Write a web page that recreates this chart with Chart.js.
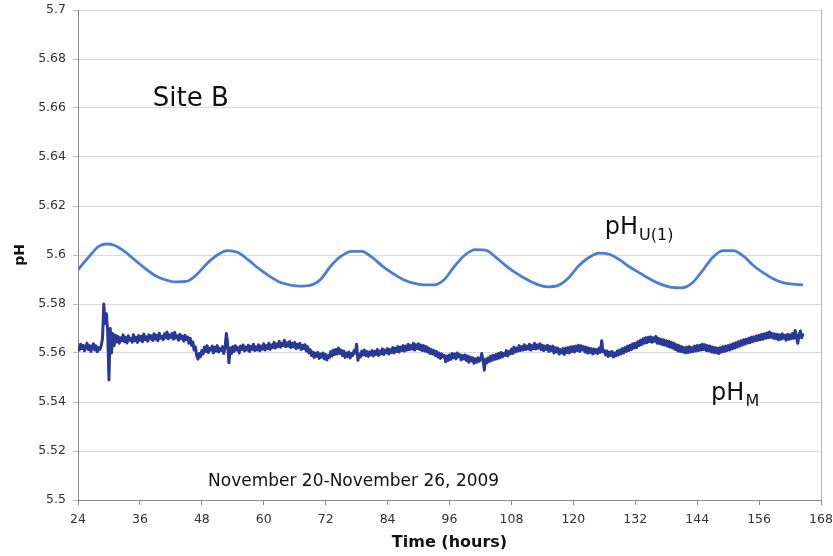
<!DOCTYPE html>
<html>
<head>
<meta charset="utf-8">
<script src="https://cdn.jsdelivr.net/npm/chart.js@4"></script>
<style>
  html,body{margin:0;padding:0;background:#fff;}
  #wrap{width:833px;height:556px;}
</style>
</head>
<body>
<div id="wrap"><canvas id="graf" width="833" height="556"></canvas></div>
<script>
// pH_U(1): smooth daily cycle, hand-read key points (hours, pH)
const tempoU = [24,26,28,29.5,31,33,35,37,39,41,43,45,47,49,51,53,55,57,59,61,63,65,67,69,71,73,75,77,79,81,83,85,87,89,91,93,95,97,99,101,103,105,107,109,111,113,115,117,119,121,123,125,127,129,131,133,135,137,139,141,143,145,147,149,151,153,155,157,159,161,163,164.5];
const phU = [5.5940,5.5990,5.6035,5.6045,5.6040,5.6015,5.5980,5.5945,5.5915,5.5898,5.5890,5.5892,5.5920,5.5965,5.6000,5.6018,5.6010,5.5980,5.5945,5.5915,5.5890,5.5878,5.5873,5.5876,5.5900,5.5955,5.5995,5.6015,5.6015,5.5990,5.5955,5.5925,5.5900,5.5885,5.5878,5.5878,5.5900,5.5955,5.6000,5.6022,5.6020,5.5990,5.5955,5.5925,5.5900,5.5880,5.5870,5.5875,5.5905,5.5955,5.5990,5.6008,5.6003,5.5980,5.5950,5.5925,5.5900,5.5880,5.5868,5.5866,5.5885,5.5935,5.5990,5.6018,5.6018,5.5995,5.5955,5.5925,5.5900,5.5885,5.5880,5.5878];

// pH_M: measured, sampled every quarter hour from 24 h (one row = 3 h)
const inicioM = 24, passoM = 0.25;
const phM = [
  5.5628,5.5612,5.5636,5.5618,5.5631,5.5609,5.5625,5.5640,5.5614,5.5630,5.5606,5.5627,
  5.5638,5.5612,5.5629,5.5605,5.5622,5.5615,5.5630,5.5660,5.5800,5.5720,5.5760,5.5690,
  5.5490,5.5700,5.5600,5.5680,5.5630,5.5672,5.5645,5.5668,5.5640,5.5662,5.5650,5.5674,
  5.5646,5.5664,5.5641,5.5670,5.5652,5.5660,5.5644,5.5675,5.5650,5.5664,5.5643,5.5671,
  5.5652,5.5668,5.5646,5.5677,5.5655,5.5666,5.5648,5.5674,5.5657,5.5670,5.5651,5.5679,
  5.5656,5.5672,5.5650,5.5681,5.5660,5.5668,5.5654,5.5678,5.5662,5.5686,5.5658,5.5674,
  5.5664,5.5680,5.5656,5.5684,5.5661,5.5670,5.5652,5.5676,5.5658,5.5669,5.5648,5.5672,
  5.5655,5.5665,5.5640,5.5660,5.5632,5.5645,5.5612,5.5625,5.5590,5.5575,5.5598,5.5585,
  5.5610,5.5596,5.5624,5.5606,5.5630,5.5602,5.5620,5.5612,5.5628,5.5600,5.5624,5.5608,
  5.5630,5.5604,5.5618,5.5610,5.5626,5.5598,5.5622,5.5680,5.5640,5.5560,5.5620,5.5598,
  5.5626,5.5606,5.5630,5.5612,5.5622,5.5600,5.5628,5.5614,5.5633,5.5608,5.5624,5.5612,
  5.5632,5.5606,5.5627,5.5615,5.5636,5.5610,5.5625,5.5612,5.5634,5.5609,5.5628,5.5616,
  5.5638,5.5612,5.5630,5.5618,5.5640,5.5615,5.5633,5.5622,5.5644,5.5620,5.5637,5.5626,
  5.5648,5.5624,5.5640,5.5630,5.5652,5.5626,5.5642,5.5628,5.5647,5.5622,5.5640,5.5625,
  5.5643,5.5618,5.5636,5.5622,5.5640,5.5614,5.5632,5.5618,5.5634,5.5608,5.5626,5.5600,
  5.5614,5.5590,5.5604,5.5582,5.5600,5.5586,5.5602,5.5578,5.5596,5.5583,5.5600,5.5576,
  5.5594,5.5572,5.5590,5.5582,5.5606,5.5588,5.5612,5.5594,5.5614,5.5596,5.5620,5.5598,
  5.5612,5.5590,5.5608,5.5582,5.5600,5.5586,5.5604,5.5580,5.5598,5.5590,5.5610,5.5600,
  5.5636,5.5570,5.5596,5.5584,5.5608,5.5592,5.5612,5.5590,5.5606,5.5586,5.5604,5.5592,
  5.5610,5.5588,5.5606,5.5594,5.5614,5.5590,5.5608,5.5596,5.5617,5.5594,5.5612,5.5600,
  5.5618,5.5596,5.5614,5.5602,5.5622,5.5600,5.5620,5.5606,5.5626,5.5604,5.5624,5.5610,
  5.5630,5.5608,5.5628,5.5612,5.5636,5.5614,5.5630,5.5616,5.5640,5.5612,5.5634,5.5618,
  5.5638,5.5614,5.5632,5.5610,5.5630,5.5608,5.5626,5.5604,5.5620,5.5598,5.5614,5.5596,
  5.5610,5.5590,5.5606,5.5584,5.5600,5.5578,5.5596,5.5584,5.5590,5.5564,5.5588,5.5570,
  5.5592,5.5574,5.5598,5.5580,5.5596,5.5576,5.5600,5.5584,5.5594,5.5572,5.5590,5.5576,
  5.5592,5.5570,5.5588,5.5562,5.5584,5.5568,5.5580,5.5558,5.5576,5.5562,5.5580,5.5566,
  5.5574,5.5598,5.5570,5.5530,5.5575,5.5560,5.5580,5.5566,5.5588,5.5570,5.5590,5.5574,
  5.5594,5.5576,5.5598,5.5580,5.5602,5.5584,5.5598,5.5590,5.5610,5.5588,5.5606,5.5596,
  5.5616,5.5598,5.5624,5.5604,5.5620,5.5608,5.5630,5.5610,5.5626,5.5612,5.5634,5.5614,
  5.5628,5.5616,5.5636,5.5612,5.5630,5.5618,5.5640,5.5616,5.5633,5.5620,5.5638,5.5614,
  5.5632,5.5610,5.5628,5.5614,5.5632,5.5606,5.5626,5.5610,5.5628,5.5600,5.5622,5.5604,
  5.5620,5.5596,5.5614,5.5600,5.5618,5.5594,5.5620,5.5602,5.5622,5.5600,5.5625,5.5606,
  5.5626,5.5604,5.5628,5.5610,5.5632,5.5606,5.5630,5.5612,5.5626,5.5604,5.5624,5.5600,
  5.5620,5.5602,5.5618,5.5596,5.5616,5.5600,5.5614,5.5598,5.5620,5.5603,5.5650,5.5605,
  5.5610,5.5592,5.5608,5.5586,5.5604,5.5590,5.5606,5.5584,5.5600,5.5588,5.5608,5.5592,
  5.5612,5.5596,5.5618,5.5600,5.5622,5.5606,5.5628,5.5610,5.5632,5.5614,5.5638,5.5620,
  5.5640,5.5622,5.5646,5.5630,5.5652,5.5634,5.5658,5.5640,5.5662,5.5642,5.5664,5.5646,
  5.5666,5.5644,5.5662,5.5648,5.5668,5.5640,5.5660,5.5638,5.5656,5.5634,5.5654,5.5632,
  5.5650,5.5628,5.5648,5.5624,5.5644,5.5620,5.5640,5.5614,5.5634,5.5608,5.5630,5.5606,
  5.5626,5.5604,5.5622,5.5600,5.5624,5.5602,5.5626,5.5604,5.5622,5.5606,5.5628,5.5608,
  5.5630,5.5610,5.5632,5.5612,5.5636,5.5614,5.5634,5.5610,5.5630,5.5608,5.5628,5.5604,
  5.5624,5.5602,5.5622,5.5600,5.5620,5.5598,5.5622,5.5604,5.5626,5.5606,5.5628,5.5610,
  5.5630,5.5612,5.5634,5.5616,5.5638,5.5620,5.5642,5.5624,5.5646,5.5628,5.5650,5.5632,
  5.5654,5.5636,5.5656,5.5640,5.5660,5.5642,5.5664,5.5646,5.5666,5.5650,5.5670,5.5652,
  5.5672,5.5654,5.5676,5.5656,5.5678,5.5660,5.5682,5.5662,5.5686,5.5664,5.5680,5.5660,
  5.5678,5.5658,5.5676,5.5654,5.5674,5.5656,5.5678,5.5660,5.5672,5.5652,5.5676,5.5656,
  5.5674,5.5658,5.5680,5.5660,5.5692,5.5664,5.5640,5.5676,5.5690,5.5662,5.5680
];

// Textos sobre o gráfico (posição em unidades dos eixos)
const notas = [
  {t:38.5, v:5.6608, txt:'Site B', size:26},
  {t:49.2, v:5.5057, txt:'November 20-November 26, 2009', size:17},
  {t:126.1, v:5.6086, txt:'pH', sub:'U(1)', size:24},
  {t:146.7, v:5.5408, txt:'pH', sub:'M', size:24}
];

const FONTE = '"DejaVu Sans", Verdana, sans-serif';

const notasPlugin = {
  id:'notas',
  afterDraw(chart){
    const {ctx, chartArea:a, scales:{x,y}} = chart;
    ctx.save();
    // borda direita da área
    ctx.strokeStyle = '#b4b4b4'; ctx.lineWidth = 1;
    ctx.beginPath(); ctx.moveTo(a.right+0.5, a.top); ctx.lineTo(a.right+0.5, a.bottom); ctx.stroke();
    ctx.fillStyle = '#111'; ctx.textBaseline = 'alphabetic'; ctx.textAlign = 'left';
    notas.forEach(n=>{
      let px = x.getPixelForValue(n.t), py = y.getPixelForValue(n.v);
      ctx.font = n.size + 'px ' + FONTE;
      ctx.fillText(n.txt, px, py);
      if(n.sub){
        let w = ctx.measureText(n.txt).width;
        ctx.font = Math.round(n.size*0.68) + 'px ' + FONTE;
        ctx.fillText(n.sub, px + w + 1, py + n.size*0.26);
      }
    });
    ctx.restore();
  }
};

new Chart(document.getElementById('graf').getContext('2d'),{
  type:'line',
  data:{
    datasets:[
      {label:'pH_U(1)', data:tempoU.map((t,i)=>({x:t,y:phU[i]})), borderColor:'#4a7fcf', borderWidth:2.8,
       pointRadius:0, cubicInterpolationMode:'monotone', fill:false},
      {label:'pH_M', data:phM.map((v,i)=>({x:inicioM+passoM*i,y:v})), borderColor:'#2a3896', borderWidth:3,
       borderJoinStyle:'round', pointRadius:0, tension:0, fill:false}
    ]
  },
  options:{
    responsive:false, animation:false,
    layout:{padding:{left:0,right:12,top:10,bottom:0}},
    plugins:{legend:{display:false}, tooltip:{enabled:false}},
    scales:{
      x:{type:'linear', min:24, max:168,
        ticks:{stepSize:12, color:'#333', padding:7, font:{family:FONTE,size:12.5}},
        grid:{drawOnChartArea:false, drawTicks:true, tickLength:5, color:'#888'},
        border:{color:'#888', width:1},
        title:{display:true, text:'Time (hours)', color:'#111', padding:{top:2,bottom:4}, font:{family:FONTE,size:16,weight:'bold'}},
        afterFit(s){ s.height = 56; s.paddingLeft = 0; s.paddingRight = 0; }
      },
      y:{min:5.5, max:5.7,
        ticks:{stepSize:0.02, color:'#333', padding:7, font:{family:FONTE,size:12.5},
          callback:v=>String(+v.toFixed(2))},
        grid:{color:'#d9d9d9', tickLength:5, tickColor:'#bbb'},
        border:{color:'#888', width:1},
        title:{display:true, text:'pH', color:'#111', padding:{top:12,bottom:0}, font:{family:FONTE,size:14,weight:'bold'}},
        afterFit(s){ s.width = 78; s.paddingTop = 0; s.paddingBottom = 0; }
      }
    }
  },
  plugins:[notasPlugin]
});
</script>
</body>
</html>
